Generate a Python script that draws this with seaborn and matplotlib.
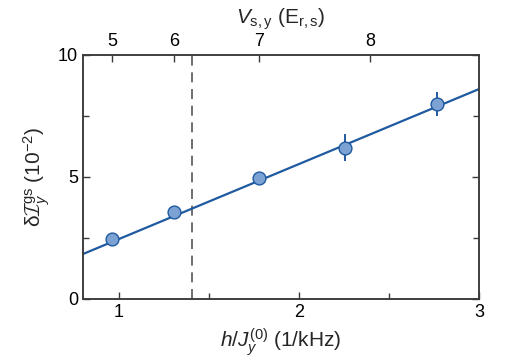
import numpy as np
import pandas as pd
import seaborn as sns
import matplotlib.pyplot as plt

# data
h_over_J = [0.96, 1.306, 1.777, 2.253, 2.766]
delta_I = [2.46, 3.57, 4.96, 6.19, 7.99]
delta_I_err = [0.15, 0.15, 0.15, 0.55, 0.5]
fit_x = [0.8, 3.0]
fit_y = [1.84, 8.6]
v_line = 1.407
top_tick_pos = [0.96, 1.306, 1.777, 2.393]
top_tick_labels = ["5", "6", "7", "8"]

sns.set_style("ticks")
plt.rcParams['font.family'] = ['Liberation Sans', 'DejaVu Sans']
plt.rcParams['mathtext.fontset'] = 'custom'
plt.rcParams['mathtext.rm'] = 'Liberation Sans'
plt.rcParams['mathtext.it'] = 'Liberation Sans:italic'
plt.rcParams['mathtext.cal'] = 'cmsy10'

LINE = "#1f5aa0"
FACE = "#7ba2d2"
AX = "#3a3a3a"

df = pd.DataFrame({"x": h_over_J, "y": delta_I, "err": delta_I_err})

fig = plt.figure(figsize=(5.14, 3.61), dpi=100)
ax = fig.add_axes([0.1615, 0.172, 0.7705, 0.676])

ax.plot(fit_x, fit_y, color=LINE, lw=1.6, zorder=2)
ax.axvline(v_line, color="#555555", lw=1.2, ls=(0, (6, 4)), zorder=1)
ax.errorbar(df["x"], df["y"], yerr=df["err"], fmt="none", ecolor=LINE, elinewidth=1.4, capsize=0, zorder=3)
sns.scatterplot(data=df, x="x", y="y", ax=ax, s=85, color=FACE, edgecolor=LINE, linewidth=1.0, zorder=4)

ax.set_xlim(0.8, 3.0)
ax.set_ylim(0, 10)
ax.set_xticks([1, 2, 3])
ax.set_xticks([1.5, 2.5], minor=True)
ax.set_yticks([0, 5, 10])
ax.set_yticks([2.5, 7.5], minor=True)
ax.tick_params(which="both", direction="in", colors=AX, labelcolor="black", labelsize=13,
               right=True, width=1)
ax.tick_params(which="major", length=5)
ax.tick_params(which="minor", length=4)
ax.tick_params(axis="x", which="both", top=False)
for s in ax.spines.values():
    s.set_visible(True)
    s.set_color(AX)
    s.set_linewidth(1.1)

ax.set_xlabel(r"$h/J_y^{(0)}$ (1/kHz)", fontsize=15, labelpad=4)
ax.set_ylabel(r"δ$\mathcal{I}_y^{\rm gs}$ (10$^{-2}$)", fontsize=15, labelpad=4)

top = ax.twiny()
top.set_xlim(ax.get_xlim())
top.set_xticks(top_tick_pos)
top.set_xticklabels(top_tick_labels)
top.tick_params(direction="in", length=5, width=1, colors=AX, labelcolor="black", labelsize=13)
for s in top.spines.values():
    s.set_color(AX)
    s.set_linewidth(1.1)
top.set_xlabel(r"$V_{\rm s,y}$ (E$_{\rm r,s}$)", fontsize=15, labelpad=7)

fig.savefig("out.png", dpi=100)
